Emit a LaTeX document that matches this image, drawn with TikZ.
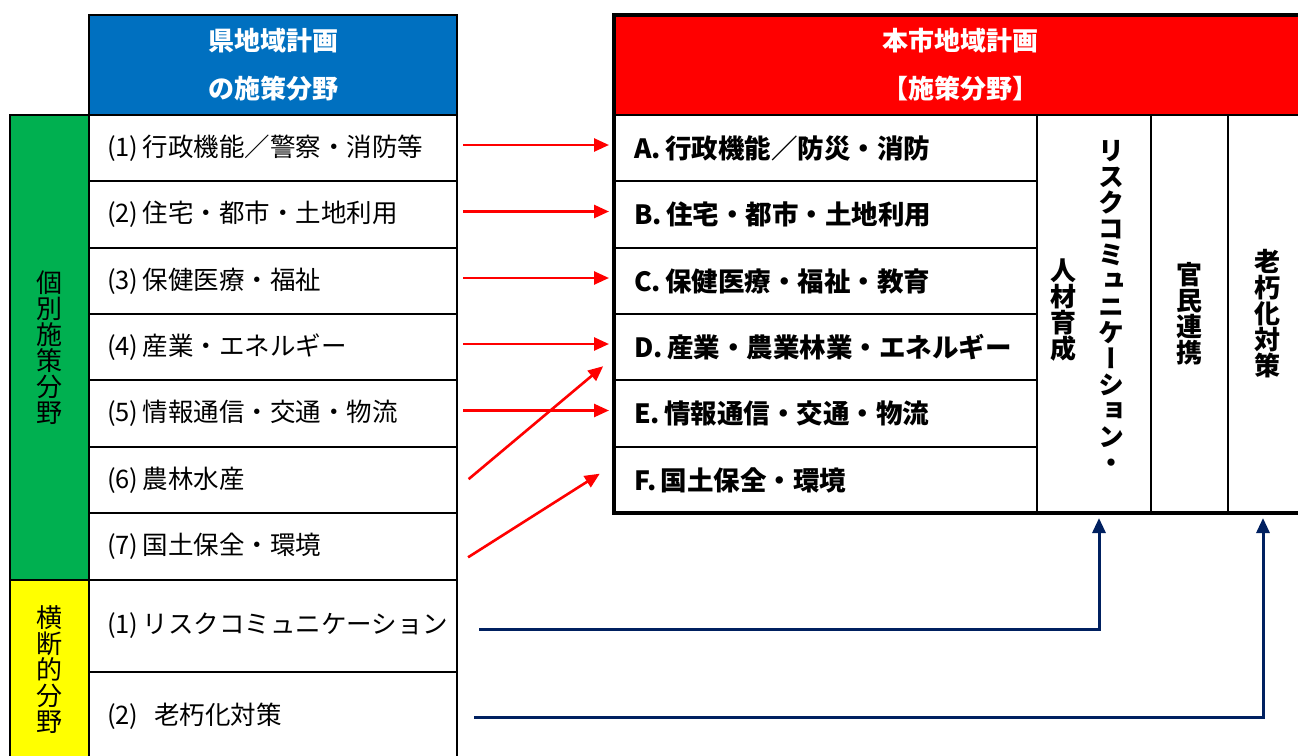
\documentclass[tikz,border=0pt]{standalone}
\usepackage{fontspec}
\setmainfont{Noto Sans CJK JP}
\newfontfamily\tatefont[RawFeature=+vert]{Noto Sans CJK JP}
\usetikzlibrary{arrows.meta}
\definecolor{kenblue}{HTML}{0070C0}
\definecolor{shired}{HTML}{FF0000}
\definecolor{kobetsugreen}{HTML}{00B050}
\definecolor{oudanyellow}{HTML}{FFFF00}
\definecolor{navy}{HTML}{002060}

\begin{document}
\begin{tikzpicture}[x=1pt, y=-1pt,
  every node/.style={outer sep=0pt},
  kenhead/.style={draw, line width=2pt, fill=kenblue, text=white, anchor=north west,
    minimum width=368pt, minimum height=100pt, align=center,
    font=\bfseries\fontsize{26}{48}\selectfont},
  shihead/.style={kenhead, fill=shired, minimum width=692pt},
  kenrow/.style={draw, line width=2pt, anchor=north west, minimum height=#1,
    inner xsep=18pt, text width=332pt, align=left, font=\fontsize{25.5}{30}\selectfont},
  shirow/.style={kenrow=#1, inner xsep=20pt, text width=383pt,
    font=\bfseries\fontsize{26.5}{30}\selectfont},
  sidebar/.style={draw, line width=2pt, anchor=north west, minimum width=79pt,
    minimum height=#1, align=center, font=\tatefont\fontsize{26}{26}\selectfont},
  tatecol/.style={draw, line width=2pt, anchor=north west, minimum height=398pt,
    minimum width=#1, align=center, font=\tatefont\bfseries\fontsize{26}{26}\selectfont},
  tate/.style={align=center, inner sep=0pt, font=\tatefont\bfseries\fontsize{26}{26}\selectfont},
  redarrow/.style={draw=shired, line width=2.6pt, shorten <=6pt, shorten >=5pt,
    -{Triangle[length=15pt,width=13pt]}},
  navyarrow/.style={draw=navy, line width=3pt, shorten >=5pt,
    -{Triangle[length=15pt,width=13pt]}}
  ]
\useasboundingbox (0,0) rectangle (1298,755);

% 県地域計画
\node[kenhead] (kenH) at (89,15) {県地域計画\\の施策分野};
\node[kenrow=66pt] (k1) at (89,115) {(1)\,行政機能／警察・消防等};
\node[kenrow=67pt] (k2) at (89,181) {(2)\,住宅・都市・土地利用};
\node[kenrow=66pt] (k3) at (89,248) {(3)\,保健医療・福祉};
\node[kenrow=66pt] (k4) at (89,314) {(4)\,産業・エネルギー};
\node[kenrow=67pt] (k5) at (89,380) {(5)\,情報通信・交通・物流};
\node[kenrow=66pt] (k6) at (89,447) {(6)\,農林水産};
\node[kenrow=67pt] (k7) at (89,513) {(7)\,国土保全・環境};
\node[kenrow=92pt] (x1) at (89,580) {(1)\,リスクコミュニケーション};
\node[kenrow=88pt] (x2) at (89,672) {(2)\hspace{16pt}老朽化対策};
\node[sidebar=465pt, fill=kobetsugreen] (kobetsu) at (10,115) {個\\別\\施\\策\\分\\野};
\node[sidebar=180pt, fill=oudanyellow] (oudan) at (10,580) {横\\断\\的\\分\\野};

% 本市地域計画
\node[shihead] (shiH) at (614,15) {本市地域計画\\【施策分野】};
\node[shirow=66pt] (rA) at (614,115) {A.\,行政機能／防災・消防};
\node[shirow=67pt] (rB) at (614,181) {B.\,住宅・都市・土地利用};
\node[shirow=66pt] (rC) at (614,248) {C.\,保健医療・福祉・教育};
\node[shirow=66pt] (rD) at (614,314) {D.\,産業・農業林業・エネルギー};
\node[shirow=67pt] (rE) at (614,380) {E.\,情報通信・交通・物流};
\node[shirow=66pt] (rF) at (614,447) {F.\,国土保全・環境};
\node[tatecol=114pt] (kc1) at (1037,115) {};
\node[tatecol=77pt] (kc2) at (1151,115) {官\\民\\連\\携};
\node[tatecol=78pt] (kc3) at (1228,115) {老\\朽\\化\\対\\策};
\node[tate] (jinzai) at ([xshift=-31pt,yshift=4pt]kc1.center) {人\\材\\育\\成};
\node[tate] (riskcom) at ([xshift=17pt,yshift=8pt]kc1.center)
  {リ\\ス\\ク\\コ\\ミ\\ュ\\ニ\\ケ\\ー\\シ\\ョ\\ン\\・};
\draw[line width=3.5pt] (shiH.north west) rectangle ([xshift=12pt]kc3.south east);

% 矢印
\foreach \a/\b in {k1/rA, k2/rB, k3/rC, k4/rD, k5/rE}
  \draw[redarrow] ([yshift=3pt]\a.east) -- ([yshift=3pt]\b.west);
\draw[redarrow] ([xshift=7pt,yshift=-3pt]k6.east) -- ([xshift=-7pt,yshift=17pt]rD.south west);
\draw[redarrow] ([xshift=6pt,yshift=-14pt]k7.east) -- ([xshift=-10pt,yshift=9pt]rF.west);
\draw[navyarrow] ([xshift=22pt,yshift=-3pt]x1.east) -| ([xshift=5pt]kc1.south);
\draw[navyarrow] ([xshift=17pt,yshift=-1pt]x2.east) -| ([xshift=-4pt]kc3.south);

\end{tikzpicture}
\end{document}
